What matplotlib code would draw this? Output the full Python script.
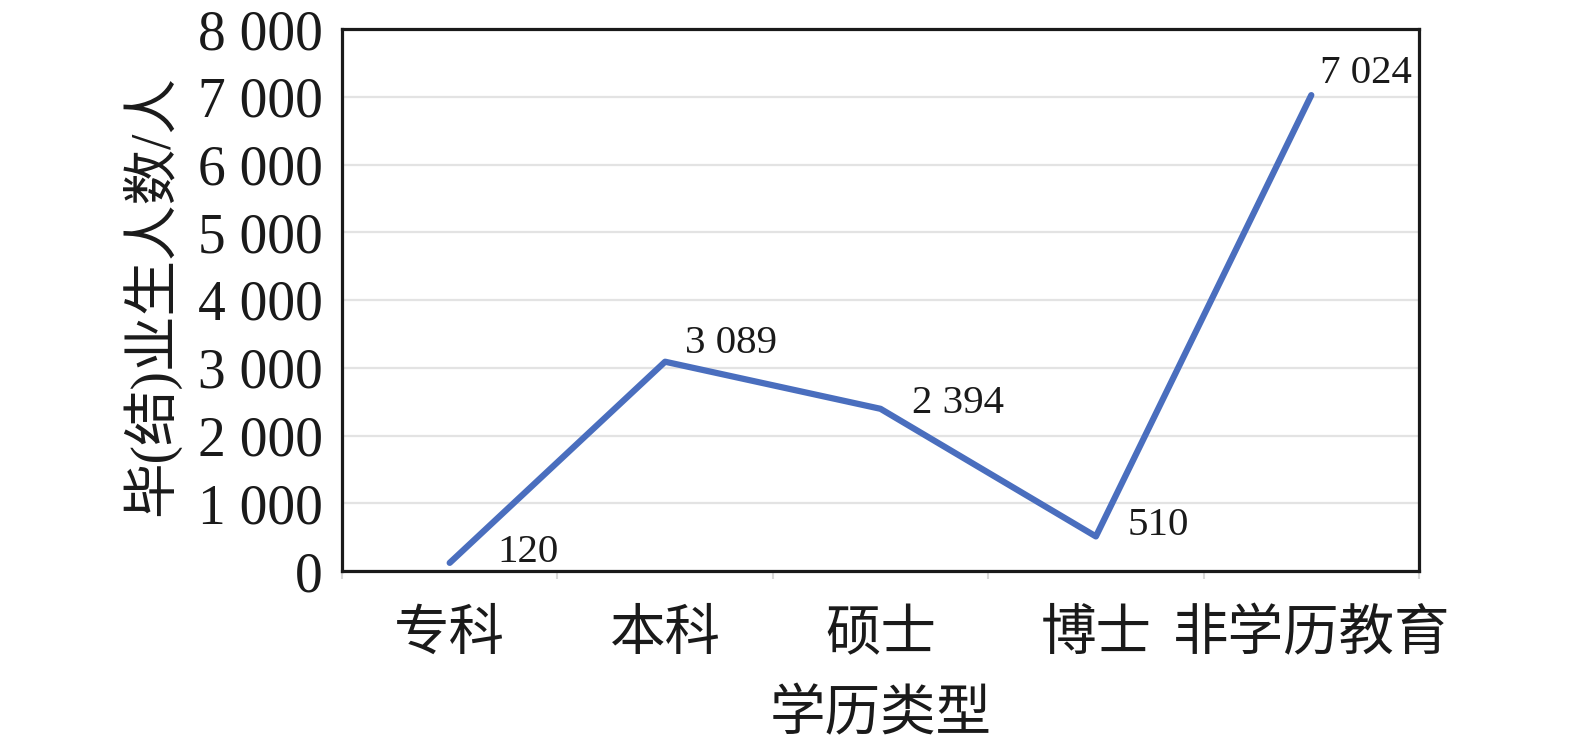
import matplotlib
matplotlib.use("Agg")
import matplotlib.pyplot as plt
from matplotlib.ticker import FuncFormatter, FixedLocator

plt.rcParams['font.family'] = ['Liberation Serif', 'Noto Sans CJK SC', 'DejaVu Sans']

# 数据
categories = ['专科', '本科', '硕士', '博士', '非学历教育']
counts = [120, 3089, 2394, 510, 7024]
yticks = [0, 1000, 2000, 3000, 4000, 5000, 6000, 7000, 8000]

fig = plt.figure(figsize=(15.75, 7.45), dpi=100)
ax = fig.add_axes([342 / 1575, 1 - 571 / 745, 1077 / 1575, 542 / 745])

x = list(range(len(categories)))
ax.plot(x, counts, color='#4a6ebe', linewidth=4.5, solid_capstyle='round',
        solid_joinstyle='round', zorder=3)

# 数据标签 (像素偏移)
offsets = [(48, 10), (20, 18), (32, 5), (32, 11), (9, 22)]
for xi, v, off in zip(x, counts, offsets):
    ax.annotate(f"{v:,}".replace(",", " "), (xi, v), xytext=off,
                textcoords='offset pixels', ha='left', va='center',
                fontsize=29.5, color='#1a1a1a')

ax.set_xlim(-0.5, len(categories) - 0.5)
ax.set_ylim(0, 8000)
ax.set_yticks(yticks)
ax.yaxis.set_major_formatter(FuncFormatter(lambda v, p: f"{int(v):,}".replace(",", " ")))
ax.tick_params(axis='y', length=0, pad=14, labelsize=40, labelcolor='#1a1a1a')

ax.set_xticks(x)
ax.set_xticklabels(categories)
ax.xaxis.set_minor_locator(FixedLocator([i - 0.5 for i in range(len(categories) + 1)]))
ax.tick_params(axis='x', which='major', length=0, pad=28, labelsize=40, labelcolor='#1a1a1a')
ax.tick_params(axis='x', which='minor', length=6, width=1.5, color='#d9d9d9', direction='out')

ax.grid(axis='y', color='#e3e3e3', linewidth=1.6, zorder=0)
ax.set_axisbelow(True)
for s in ax.spines.values():
    s.set_linewidth(2.3)
    s.set_color('#1a1a1a')

ax.set_ylabel('毕(结)业生人数/人', fontsize=40, va='center', color='#1a1a1a')
ax.yaxis.set_label_coords(-0.178, 0.509)
ax.set_xlabel('学历类型', fontsize=40, va='center', color='#1a1a1a')
ax.xaxis.set_label_coords(0.5, -0.268)

fig.savefig('out.png', dpi=100)
